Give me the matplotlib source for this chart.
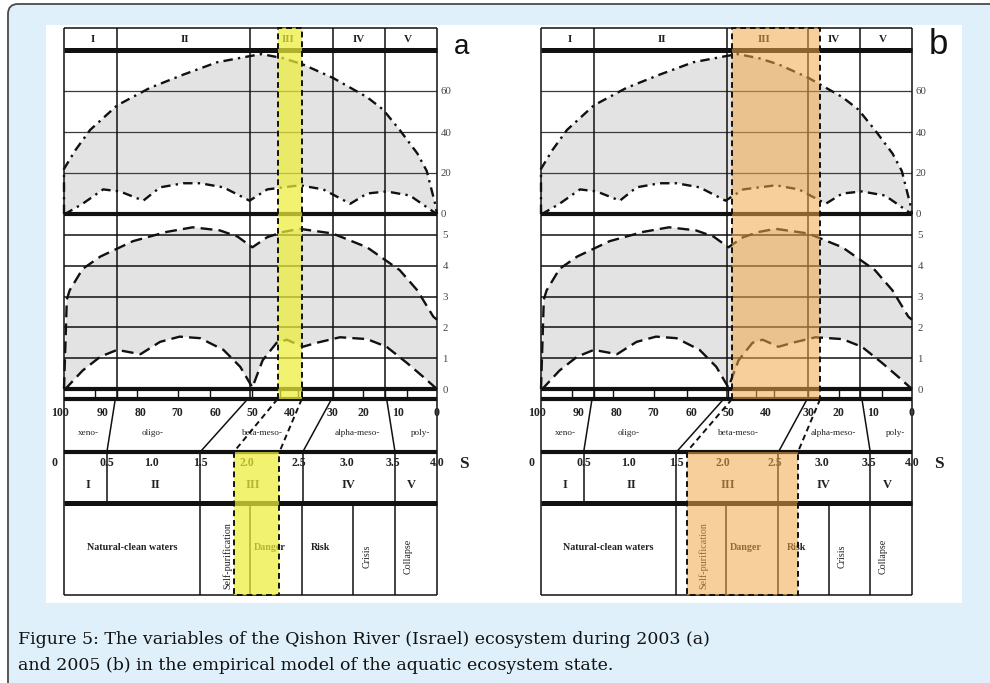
import numpy as np
import matplotlib.pyplot as plt
from matplotlib.patches import FancyBboxPatch, Rectangle

plt.rcParams["font.family"] = ["Liberation Serif", "DejaVu Serif"]

W, H = 990, 683

# ---------------- data (x in S units, 0..4) ----------------
state_labels = ["I", "II", "III", "IV", "V"]
state_cols_top = [0.57, 2.0, 2.88, 3.44]
state_head_x = [0.31, 1.30, 2.40, 3.16, 3.69]
state_cols_s = [0.46, 1.46, 2.56, 3.55]
state_s_x = [0.26, 0.98, 2.02, 3.05, 3.73]

s_ticks = ["0", "0.5", "1.0", "1.5", "2.0", "2.5", "3.0", "3.5", "4.0"]
s_tick_x = [-0.10, 0.46, 0.94, 1.46, 1.96, 2.52, 3.03, 3.53, 4.0]

sap_ticks = ["100", "90", "80", "70", "60", "50", "40", "30", "20", "10", "0"]
sap_tick_x = [-0.04, 0.41, 0.82, 1.21, 1.62, 2.02, 2.42, 2.88, 3.21, 3.58, 4.0]
zone_names = ["xeno-", "oligo-", "beta-meso-", "alpha-meso-", "poly-"]
zone_x = [0.26, 0.95, 2.13, 3.15, 3.82]
zone_split_top = [0.55, 1.97, 2.87, 3.46]
zone_split_bottom = [0.46, 1.46, 2.56, 3.55]
tick_row_x = [0.33, 0.57, 0.78, 1.22, 1.57, 2.02, 2.32, 2.51, 2.88, 3.21, 3.44, 3.68]

status_names = ["Natural-clean waters", "Self-purification", "Danger", "Risk", "Crisis", "Collapse"]
status_edges = [0, 1.46, 1.99, 2.55, 3.10, 3.55, 4.0]
status_x = [0.73, 1.75, 2.21, 2.75, 3.25, 3.69]
status_rot = [False, True, False, False, True, True]

# upper panel (0..80), dash-dot envelope
top_up_x = [0, 0, 0.12, 0.28, 0.57, 0.92, 1.28, 1.64, 1.99, 2.12, 2.35, 2.56, 2.88, 3.25, 3.42, 3.60, 3.79, 3.89, 3.98, 4.0]
top_up_y = [0, 22, 31, 41, 53, 61.5, 68, 74, 77, 78, 76, 73, 66.5, 57, 51, 41, 29.5, 21, 5, 0]
top_lo_x = [0, 0.03, 0.20, 0.42, 0.60, 0.85, 1.03, 1.28, 1.46, 1.71, 1.99, 2.18, 2.53, 2.78, 3.07, 3.25, 3.46, 3.71, 3.98, 4.0]
top_lo_y = [0, 0.5, 5, 12, 11, 6.5, 13, 15, 15, 13, 6.5, 12, 14, 12, 5, 10, 11, 9, 0.5, 0]

# middle panel (0..5.7), dashed envelope
mid_up_x = [0, 0.03, 0.06, 0.20, 0.39, 0.74, 1.10, 1.38, 1.67, 1.86, 2.02, 2.18, 2.35, 2.53, 2.88, 3.25, 3.60, 3.79, 3.96, 4.0]
mid_up_y = [0, 2.9, 3.2, 3.9, 4.3, 4.8, 5.1, 5.25, 5.15, 4.95, 4.6, 4.93, 5.1, 5.2, 5.05, 4.6, 3.86, 3.2, 2.35, 2.25]
mid_lo_x = [0, 0.03, 0.20, 0.39, 0.57, 0.82, 1.03, 1.24, 1.46, 1.71, 1.89, 2.02, 2.13, 2.28, 2.39, 2.56, 2.71, 2.96, 3.25, 3.46, 3.68, 3.85, 3.98, 4.0]
mid_lo_y = [0, 0.05, 0.6, 1.05, 1.27, 1.13, 1.53, 1.7, 1.65, 1.27, 0.72, 0.05, 0.93, 1.5, 1.6, 1.37, 1.5, 1.68, 1.62, 1.37, 0.84, 0.4, 0.05, 0]

# rows of the table (pixels from top)
ROW_TOP, ROW_HEAD, ROW_Z1, ROW_Z2, ROW_TICK, ROW_SAP, ROW_S, ROW_BOT = 28, 49.5, 214, 389, 399, 452, 503, 595
TOP_PX_PER_UNIT = 2.05
MID_PX_PER_UNIT = 30.8

fig = plt.figure(figsize=(W / 100, H / 100), dpi=100)
fig.patch.set_facecolor("white")

bg = fig.add_axes([0, 0, 1, 1], zorder=0)
bg.set_xlim(0, W)
bg.set_ylim(H, 0)
bg.axis("off")
bg.add_patch(FancyBboxPatch((8, 4), 1200, 900, boxstyle="round,pad=0,rounding_size=10",
                            fc="#dff0fa", ec="#4a4a4a", lw=1.3))
bg.add_patch(Rectangle((46, 25), 916, 578, fc="white", ec="none"))
bg.text(18, 644, "Figure 5: The variables of the Qishon River (Israel) ecosystem during 2003 (a)",
        fontsize=12.5, family="DejaVu Serif", va="baseline", color="#111")
bg.text(18, 670, "and 2005 (b) in the empirical model of the aquatic ecosystem state.",
        fontsize=12.5, family="DejaVu Serif", va="baseline", color="#111")


def draw_panel(left, right, band_top, band_low, band_color, band_alpha, letter, letter_x, letter_size):
    fx, fw = left / W, (right - left) / W

    def fy(p):
        return 1 - p / H

    # ---------- curve panels ----------
    ax1 = fig.add_axes([fx, fy(ROW_Z1), fw, (ROW_Z1 - ROW_HEAD) / H], zorder=1)
    ax2 = fig.add_axes([fx, fy(ROW_Z2), fw, (ROW_Z2 - ROW_Z1) / H], zorder=1)
    ax1.set_ylim(0, (ROW_Z1 - ROW_HEAD) / TOP_PX_PER_UNIT)
    ax2.set_ylim(0, (ROW_Z2 - ROW_Z1) / MID_PX_PER_UNIT)
    for ax, ticks, pad in ((ax1, [0, 20, 40, 60], 2.5), (ax2, [0, 1, 2, 3, 4, 5], 4)):
        ax.set_xlim(0, 4)
        ax.patch.set_visible(False)
        for s in ax.spines.values():
            s.set_visible(False)
        ax.set_xticks([])
        ax.yaxis.tick_right()
        ax.set_yticks(ticks)
        ax.tick_params(axis="y", length=0, pad=pad, labelsize=7.8, labelcolor="#444")

    for v in (20, 40, 60):
        ax1.axhline(v, color="#3c3c3c", lw=0.9)
    for v in (1, 2, 3, 4, 5):
        ax2.axhline(v, color="#111", lw=1.1)

    ax1.fill(np.r_[top_up_x, top_lo_x[::-1]], np.r_[top_up_y, top_lo_y[::-1]], color="#e3e3e3", lw=0)
    ax2.fill(np.r_[mid_up_x, mid_lo_x[::-1]], np.r_[mid_up_y, mid_lo_y[::-1]], color="#e3e3e3", lw=0)
    dashdot = (0, (4, 2.2, 1, 2.2))
    ax1.plot(top_up_x, top_up_y, color="#111", lw=1.7, ls=dashdot, clip_on=False)
    ax1.plot(top_lo_x, top_lo_y, color="#111", lw=1.7, ls=dashdot, clip_on=False)
    ax2.plot(mid_up_x, mid_up_y, color="#111", lw=1.7, ls=(0, (5, 2.6)), clip_on=False)
    ax2.plot(mid_lo_x, mid_lo_y, color="#111", lw=1.7, ls=(0, (5, 2.6)), clip_on=False)

    # ---------- table frame ----------
    fa = fig.add_axes([fx, fy(ROW_BOT), fw, (ROW_BOT - ROW_TOP) / H], zorder=3)
    fa.set_xlim(0, 4)
    fa.set_ylim(ROW_BOT, ROW_TOP)
    fa.axis("off")
    k = dict(color="#111", clip_on=False, solid_capstyle="butt", zorder=3)

    fa.plot([0, 4], [ROW_TOP, ROW_TOP], lw=1.1, **k)
    fa.plot([0, 4], [ROW_BOT, ROW_BOT], lw=1.1, **k)
    fa.plot([0, 0], [ROW_TOP, ROW_BOT], lw=1.1, **k)
    fa.plot([4, 4], [ROW_TOP, ROW_BOT], lw=1.1, **k)
    for r, lw in ((ROW_HEAD, 3.6), (ROW_Z1, 3.0), (ROW_Z2, 3.0), (ROW_TICK, 3.0), (ROW_SAP, 3.0), (ROW_S, 3.6)):
        fa.plot([0, 4], [r, r], lw=lw, **k)
    for x in state_cols_top:
        fa.plot([x, x], [ROW_TOP, ROW_TICK], lw=1.1, **k)
    for x in tick_row_x:
        fa.plot([x, x], [ROW_Z2, ROW_TICK], lw=1.0, **k)
    for xt, xb in zip(zone_split_top, zone_split_bottom):
        fa.plot([xt, xb], [ROW_TICK, ROW_SAP], lw=1.1, **k)
    for x in state_cols_s:
        fa.plot([x, x], [ROW_SAP, ROW_S], lw=1.1, **k)
    for x in status_edges[1:-1]:
        fa.plot([x, x], [ROW_S, ROW_BOT], lw=1.1, **k)

    # ---------- labels ----------
    t = dict(ha="center", va="center", color="#222", zorder=4)
    for lab, x in zip(state_labels, state_head_x):
        fa.text(x, (ROW_TOP + ROW_HEAD) / 2 + 0.5, lab, fontsize=8, weight="bold", **t)
    for lab, x in zip(sap_ticks, sap_tick_x):
        fa.text(x, 413, lab, fontsize=8.5, weight="bold", **t)
    for lab, x in zip(zone_names, zone_x):
        fa.text(x, 433, lab, fontsize=6.6, **t)
    for lab, x in zip(s_ticks, s_tick_x):
        fa.text(x, 463, lab, fontsize=8.5, weight="bold", **t)
    for lab, x in zip(state_labels, state_s_x):
        fa.text(x, 485, lab, fontsize=9, weight="bold", **t)
    fa.text(4.29, 464, "S", fontsize=12.5, weight="bold", **t)
    for lab, x, rot in zip(status_names, status_x, status_rot):
        if rot:
            fa.text(x, 556, lab, fontsize=7.2, rotation=90, **t)
        else:
            fa.text(x, 547, lab, fontsize=7.2, weight="bold", **t)

    # ---------- highlighted state ----------
    b0, b1 = band_top
    l0, l1 = band_low
    fa.add_patch(Rectangle((b0, ROW_TOP), b1 - b0, ROW_TICK - ROW_TOP, fc=band_color,
                           alpha=band_alpha, ec="none", zorder=5, clip_on=False))
    fa.add_patch(Rectangle((l0, ROW_SAP), l1 - l0, ROW_BOT - ROW_SAP, fc=band_color,
                           alpha=band_alpha, ec="none", zorder=5, clip_on=False))
    d = dict(color="#111", lw=1.4, ls=(0, (3, 2)), clip_on=False, zorder=6)
    fa.plot([b0, b0, b1, b1], [ROW_TICK, ROW_TOP, ROW_TOP, ROW_TICK], **d)
    fa.plot([b0, l0], [ROW_TICK, ROW_SAP], **d)
    fa.plot([b1, l1], [ROW_TICK, ROW_SAP], **d)
    fa.plot([l0, l0, l1, l1], [ROW_SAP, ROW_BOT, ROW_BOT, ROW_SAP], **d)

    bg.text(letter_x, 54, letter, fontsize=letter_size, family="Liberation Sans",
            ha="center", va="baseline", color="#111")


draw_panel(64, 437, (2.29, 2.55), (1.82, 2.31), "#eeee3a", 0.72, "a", 462, 20)
draw_panel(541, 912, (2.06, 3.01), (1.57, 2.77), "#f0a848", 0.55, "b", 938, 25)

fig.savefig("out.png", dpi=100)
